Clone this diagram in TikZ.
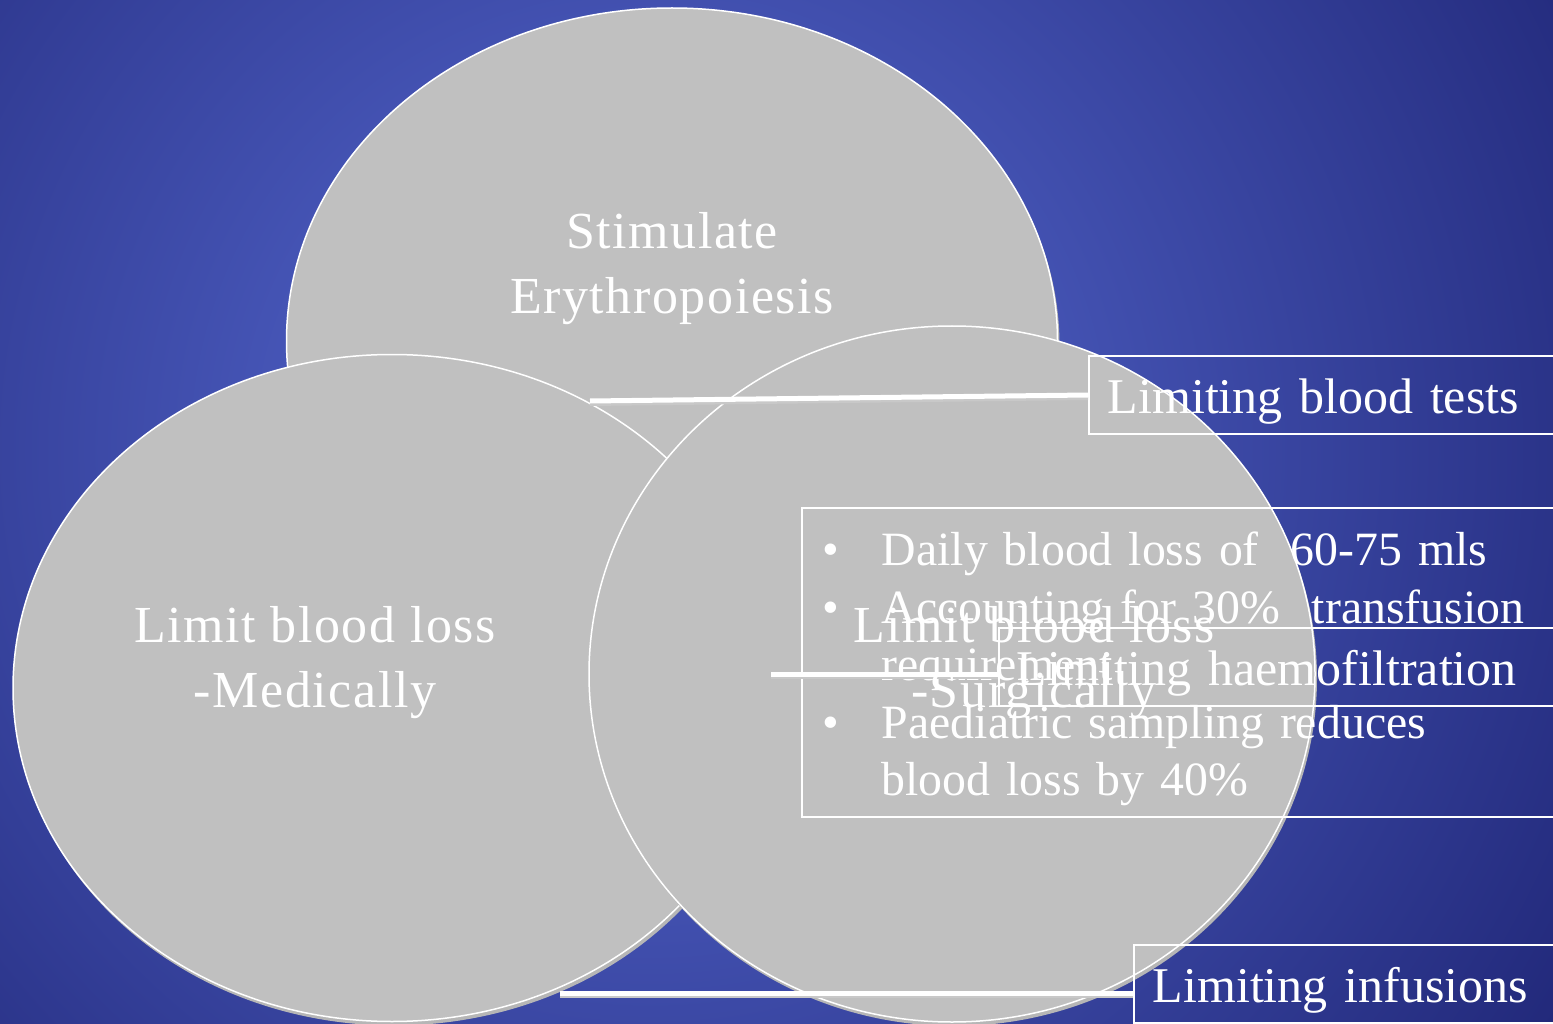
\documentclass[tikz,border=0pt]{standalone}
\usepackage{fontspec}
\setmainfont{Liberation Serif}
\newfontfamily\ellfont[LetterSpace=3]{Liberation Serif}
\newfontfamily\boxfont{Liberation Serif}
\newfontfamily\bulfont{Liberation Serif}
\usetikzlibrary{shapes.geometric,shadows}
\definecolor{bginner}{HTML}{4D5EC2}
\definecolor{bgouter}{HTML}{1E2474}
\definecolor{discfill}{HTML}{C0C0C0}
\definecolor{discshadow}{HTML}{B6B6B6}
\definecolor{connshadow}{HTML}{C8C8C8}
\pgfdeclareradialshading{bgshade}{\pgfpoint{0bp}{0bp}}{color(0bp)=(bginner); color(5bp)=(bginner); color(25bp)=(bgouter); color(50bp)=(bgouter)}
\begin{document}
\begin{tikzpicture}[x=1pt,y=-1pt,
  disc/.style={ellipse, draw=white, line width=1.5pt, fill=discfill, inner sep=0pt,
    drop shadow={shadow xshift=2pt, shadow yshift=-4pt, fill=discshadow, opacity=1}},
  ellt/.style={text=white, align=center, font=\ellfont\fontsize{52}{65}\selectfont},
  boxn/.style={draw=white, line width=1.6pt, anchor=west, text=white, align=left,
    inner xsep=19pt, inner ysep=0pt, text height=50pt, text depth=14pt,
    font=\boxfont\fontsize{50}{60}\selectfont},
  conn/.style={draw=white, line width=5pt},
  connsh/.style={draw=connshadow, line width=4pt, transform canvas={yshift=-3pt}}
]
\useasboundingbox (0,0) rectangle (1553,1024);
\fill[bgouter] (0,0) rectangle (1553,1024);
\begin{scope}
  \clip (0,0) rectangle (1553,1024);
  \shade[shading=bgshade] (650,450) circle (1150pt);
\end{scope}

% discs
\node[disc, minimum width=771pt, minimum height=666pt] (top) at (672,341) {};
\node[disc, minimum width=758pt, minimum height=667pt] (left) at (392,688) {};
\node[disc, minimum width=726pt, minimum height=696pt] (right) at (952,674) {};

% boxes
\node[boxn, minimum width=480pt, minimum height=78pt, text width=442pt] (tests) at (1088,395) {Limiting blood tests};
\node[boxn, minimum width=770pt, minimum height=309pt, text width=732pt, inner xsep=21pt,
  text height=, text depth=,
  font=\bulfont\fontsize{47.8}{57.5}\selectfont] (facts) at (801,662.5)
  {\rule{0pt}{47pt}\makebox[59pt][l]{\textbullet}Daily blood loss of \ 60-75 mls\\
   \makebox[59pt][l]{\textbullet}Accounting for 30\% \ transfusion\\
   \hspace*{59pt}requirement\\
   \makebox[59pt][l]{\textbullet}Paediatric sampling reduces\\
   \hspace*{59pt}blood loss by 40\%};
\node[boxn, minimum width=570pt, minimum height=78pt, text width=534pt, inner xsep=17pt] (haemo) at (998,667) {Limiting haemofiltration};
\node[boxn, minimum width=430pt, minimum height=78pt, text width=392pt] (infus) at (1133,984) {Limiting infusions};

% connector ends
\coordinate (c1) at (590,401);
\coordinate (c2) at (771,674);
\coordinate (c3) at (560,993);

\path[connsh] (c1) -- (tests.west);
\path[conn] (c1) -- (tests.west);
\path[connsh] (c2) -- (c2 -| haemo.west);
\path[conn] (c2) -- (c2 -| haemo.west);
\path[connsh] (c3) -- (c3 -| infus.west);
\path[conn] (c3) -- (c3 -| infus.west);

% disc texts
\node[ellt] (ttop) at (672,269) {Stimulate\\Erythropoiesis};
\node[ellt] (tleft) at (315,663) {Limit blood loss\\-Medically};
\node[ellt] (tright) at (1034,663) {Limit blood loss\\-Surgically};
\end{tikzpicture}
\end{document}
